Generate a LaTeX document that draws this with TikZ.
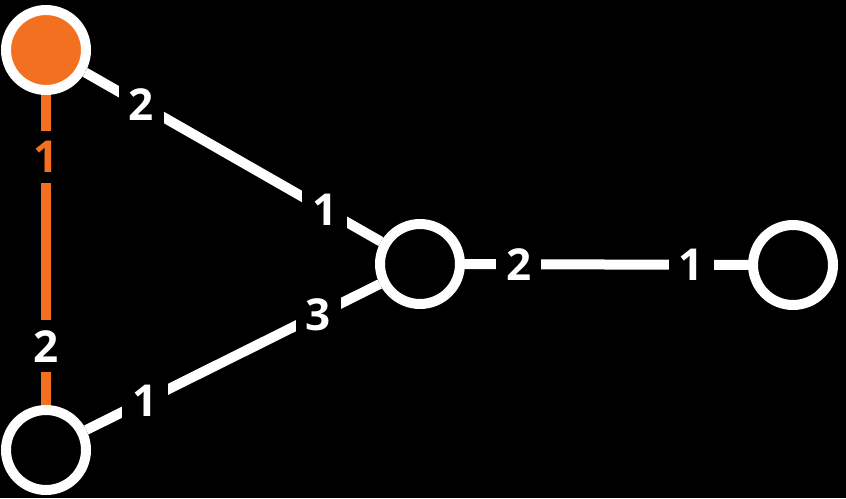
\documentclass[tikz,border=0pt]{standalone}
\usepackage{fontspec}
\setmainfont{Open Sans}
\usepackage{tikz}
\usetikzlibrary{positioning}
\definecolor{hlorange}{HTML}{F37021}

\begin{document}
\begin{tikzpicture}[
  x=1pt, y=-1pt,
  every node/.style={font=\fontsize{44}{44}\selectfont\bfseries},
  vert/.style={circle, draw=white, line width=10pt, minimum size=80pt, inner sep=0pt, fill=black},
  edge/.style={draw=white, line width=10pt},
  lbl/.style={fill=black, text=white, inner sep=10pt}
]
\fill[black] (0,0) rectangle (846,498);
\useasboundingbox (0,0) rectangle (846,498);
\node[vert, fill=hlorange] (a) at (46,50) {};
\node[vert] (b) at (46,450) {};
\node[vert] (c) at (420,264) {};
\node[vert] (d) at (793,265) {};
\draw[edge, draw=hlorange] (a) -- node[lbl, pos=.2, text=hlorange] {1} node[lbl, pos=.81] {2} (b);
\draw[edge] (a) -- node[lbl, pos=.19] {2} node[lbl, pos=.81] {1} (c);
\draw[edge] (b) -- node[lbl, pos=.2] {1} node[lbl, pos=.79] {3} (c);
\draw[edge] (c) -- node[lbl, pos=.19] {2} node[lbl, pos=.8] {1} (d);
\end{tikzpicture}
\end{document}
